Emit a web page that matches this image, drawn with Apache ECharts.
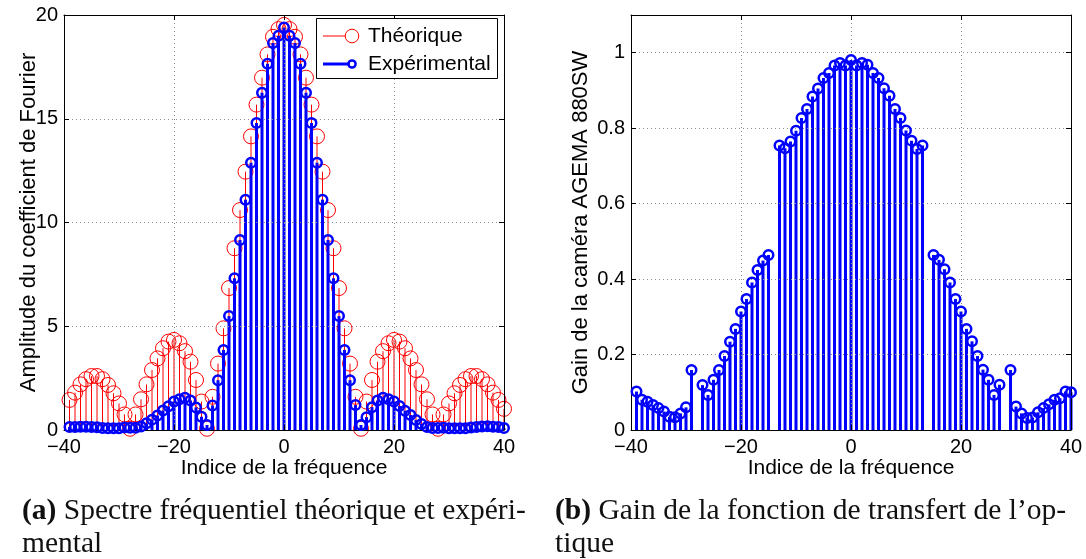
<!DOCTYPE html>
<html>
<head>
<meta charset="utf-8">
<script src="https://cdn.jsdelivr.net/npm/echarts@6/dist/echarts.min.js"></script>
<style>
html,body{margin:0;padding:0;background:#fff;}
#chart{width:1086px;height:559px;}
</style>
</head>
<body>
<div id="chart"></div>
<script>
// Frequency index (x values)
var freqIndex = [-39,-38,-37,-36,-35,-34,-33,-32,-31,-30,-29,-28,-27,-26,-25,-24,-23,-22,-21,-20,
  -19,-18,-17,-16,-15,-14,-13,-12,-11,-10,-9,-8,-7,-6,-5,-4,-3,-2,-1,0,
  1,2,3,4,5,6,7,8,9,10,11,12,13,14,15,16,17,18,19,20,
  21,22,23,24,25,26,27,28,29,30,31,32,33,34,35,36,37,38,39,40];

// (a) Théorique
var theorique = [1.45,1.8,2.2,2.45,2.6,2.6,2.45,2.17,1.77,1.28,0.75,0.06,0.75,1.48,2.2,2.89,3.45,3.94,4.26,4.34,
  4.18,3.8,3.29,2.41,1.37,0.06,1.6,3.2,4.9,6.84,8.76,10.6,12.45,14.15,15.68,16.98,18.1,18.95,19.32,19.52,
  19.32,18.95,18.1,16.98,15.68,14.15,12.45,10.6,8.76,6.84,4.9,3.2,1.6,0.06,1.37,2.41,3.29,3.8,4.18,4.34,
  4.26,3.94,3.45,2.89,2.2,1.48,0.75,0.06,0.75,1.28,1.77,2.17,2.45,2.6,2.6,2.45,2.2,1.8,1.45,1.02];

// (a) Expérimental
var experimental = [0.15,0.15,0.16,0.16,0.15,0.13,0.1,0.09,0.09,0.09,0.12,0.11,0.11,0.17,0.32,0.5,0.7,0.94,1.14,1.37,
  1.48,1.55,1.42,1.09,0.64,0.24,1.18,2.4,3.86,5.49,7.31,9.16,11.1,12.88,14.8,16.25,17.65,18.65,19.0,19.4,
  19.0,18.65,17.65,16.25,14.8,12.88,11.1,9.16,7.31,5.49,3.86,2.4,1.2,0.24,0.62,1.1,1.42,1.55,1.48,1.37,
  1.16,0.93,0.72,0.48,0.29,0.15,0.1,0.1,0.11,0.09,0.09,0.08,0.09,0.12,0.15,0.17,0.18,0.16,0.15,0.1];

// (b) Gain (null = undefined where theoretical spectrum is zero)
var gain = [0.102,0.08,0.075,0.066,0.058,0.049,0.035,0.034,0.044,0.06,0.159,null,0.119,0.093,0.133,0.159,0.196,0.234,0.268,0.314,
  0.347,0.391,0.424,0.449,0.464,null,0.754,0.747,0.765,0.793,0.827,0.851,0.884,0.905,0.933,0.946,0.966,0.973,0.966,0.981,
  0.966,0.973,0.968,0.946,0.933,0.906,0.886,0.851,0.827,0.794,0.767,0.745,0.754,null,0.464,0.451,0.426,0.391,0.347,0.314,
  0.268,0.235,0.196,0.16,0.133,0.093,0.12,null,0.159,0.062,0.044,0.032,0.033,0.047,0.058,0.068,0.08,0.084,0.102,0.1];

var xTicks = [-40,-20,0,20,40];
var yTicksA = [0,5,10,15,20];
var yTicksB = [0,0.2,0.4,0.6,0.8,1];

function pairs(ys){ var out=[]; for(var k=0;k<freqIndex.length;k++){ if(ys[k]!==null) out.push([freqIndex[k], ys[k]]); } return out; }

var RED='#ff0000', BLUE='#0000ff';
var SANS='"Liberation Sans", Arial, Helvetica, sans-serif';
var SERIF='"Liberation Serif", "Times New Roman", serif';

function fmtNum(v){ var s = (Math.round(v*1000)/1000).toString(); return v<0 ? '\u2212'+s.slice(1) : s; }

function xAx(gi, pos, main){
  return {type:'value', gridIndex:gi, position:pos, min:-40, max:40, interval:20,
    axisLine:{show:true, onZero:false, lineStyle:{color:'#000', width:1}},
    axisTick:{show:true, inside:true, length:5, lineStyle:{color:'#000'}},
    axisLabel:{show:main, color:'#000', fontSize:20, fontFamily:SANS, margin:7,
      formatter:function(v){ return xTicks.indexOf(v)>=0 ? fmtNum(v) : ''; }},
    splitLine:{show:main, lineStyle:{color:'#8c8c8c', width:1, type:[1,3]}},
    name: main ? 'Indice de la fréquence' : '', nameLocation:'middle', nameGap:28, nameMoveOverlap:false,
    nameTextStyle:{color:'#000', fontSize:21, fontFamily:SANS}, z:5};
}
function yAx(gi, pos, main, max, interval, ticks, name, gap){
  return {type:'value', gridIndex:gi, position:pos, min:0, max:max, interval:interval,
    axisLine:{show:true, onZero:false, lineStyle:{color:'#000', width:1}},
    axisTick:{show:true, inside:true, length:5, lineStyle:{color:'#000'}},
    axisLabel:{show:main, color:'#000', fontSize:20, fontFamily:SANS, margin:6,
      formatter:function(v){ for(var k=0;k<ticks.length;k++){ if(Math.abs(ticks[k]-v)<1e-6) return fmtNum(v);} return ''; }},
    splitLine:{show:main, lineStyle:{color:'#8c8c8c', width:1, type:[1,3]}},
    name: main ? name : '', nameLocation:'middle', nameGap:gap, nameRotate:90, nameMoveOverlap:false,
    nameTextStyle:{color:'#000', fontSize:22, fontFamily:SANS}, z:5};
}

function stem(color, width, xi, yi, data, z){
  return {type:'custom', xAxisIndex:xi, yAxisIndex:yi, data:data, z:z, silent:true,
    renderItem:function(params, api){
      var x=api.value(0), y=api.value(1);
      var p0=api.coord([x,0]), p1=api.coord([x,y]);
      return {type:'line', shape:{x1:p0[0],y1:p0[1],x2:p1[0],y2:p1[1]}, style:{stroke:color, lineWidth:width}};
    }};
}
function markers(color, size, bw, xi, yi, data, z){
  return {type:'scatter', xAxisIndex:xi, yAxisIndex:yi, data:data, z:z, silent:true,
    symbol:'circle', symbolSize:size,
    itemStyle:{color:'rgba(0,0,0,0)', borderColor:color, borderWidth:bw, opacity:1}};
}

var thData = pairs(theorique), exData = pairs(experimental), gData = pairs(gain);

var option = {
  animation:false,
  backgroundColor:'#fff',
  grid:[
    {left:64, top:15, width:440, height:415, containLabel:false},
    {left:631, top:15, width:440, height:415, containLabel:false}
  ],
  xAxis:[ xAx(0,'bottom',true), xAx(0,'top',false), xAx(1,'bottom',true), xAx(1,'top',false) ],
  yAxis:[
    yAx(0,'left',true,20,5,yTicksA,'Amplitude du coefficient de Fourier',24),
    yAx(0,'right',false,20,5,yTicksA,'',0),
    yAx(1,'left',true,1.1,0.2,yTicksB,'Gain de la caméra AGEMA 880SW',39),
    yAx(1,'right',false,1.1,0.2,yTicksB,'',0)
  ],
  series:[
    stem(RED,1,0,0,thData,2),
    markers(RED,15,1,0,0,thData,3),
    stem(BLUE,3,0,0,exData,4),
    markers(BLUE,9.5,2.5,0,0,exData,5),
    stem(BLUE,3,2,2,gData,4),
    markers(BLUE,9.5,2.5,2,2,gData,5)
  ],
  graphic:[
    {type:'rect', z:100, shape:{x:316.5,y:18.5,width:181,height:60}, style:{fill:'#fff', stroke:'#000', lineWidth:1}},
    {type:'line', z:101, shape:{x1:323,y1:36,x2:345,y2:36}, style:{stroke:RED, lineWidth:1}},
    {type:'circle', z:101, shape:{cx:352,cy:36,r:6.8}, style:{fill:'none', stroke:RED, lineWidth:1}},
    {type:'text', z:101, x:368, y:36, style:{text:'Théorique', fill:'#000', font:'21px '+SANS, verticalAlign:'middle'}},
    {type:'line', z:101, shape:{x1:323,y1:64,x2:350,y2:64}, style:{stroke:BLUE, lineWidth:3}},
    {type:'circle', z:101, shape:{cx:352,cy:64,r:3.6}, style:{fill:'none', stroke:BLUE, lineWidth:2.5}},
    {type:'text', z:101, x:368, y:64, style:{text:'Expérimental', fill:'#000', font:'21px '+SANS, verticalAlign:'middle'}},
    {type:'text', z:100, x:22, y:495, style:{
      text:'{b|(a)} Spectre fréquentiel théorique et expéri-\nmental',
      font:'29.5px '+SERIF, fill:'#111', lineHeight:33,
      rich:{b:{font:'bold 29.5px '+SERIF, fill:'#111', lineHeight:33}}}},
    {type:'text', z:100, x:555, y:495, style:{
      text:'{b|(b)} Gain de la fonction de transfert de l\u2019op-\ntique',
      font:'29.5px '+SERIF, fill:'#111', lineHeight:33,
      rich:{b:{font:'bold 29.5px '+SERIF, fill:'#111', lineHeight:33}}}}
  ]
};

var chart = echarts.init(document.getElementById('chart'), null, {renderer:'canvas'});
chart.setOption(option);
</script>
</body>
</html>
